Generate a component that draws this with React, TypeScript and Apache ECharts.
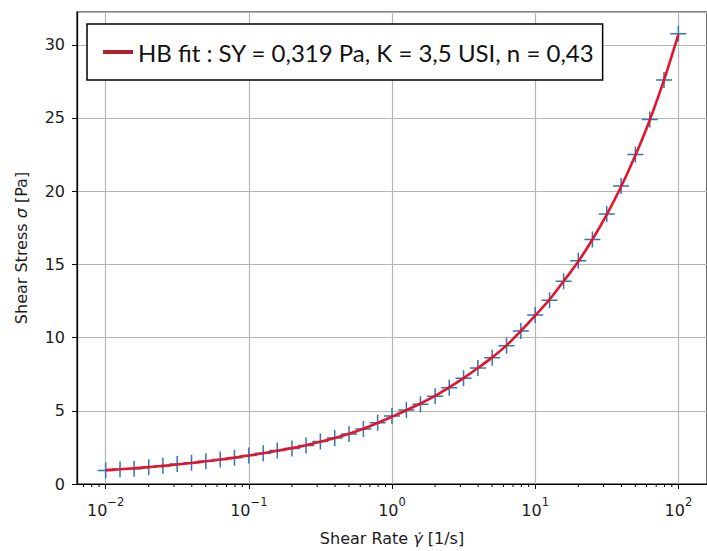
import React, { useEffect, useRef } from 'react';
import * as echarts from 'echarts';

// Shear rate of each measured point [1/s] (10 points per decade)
const shearRate = [
  0.01, 0.0126, 0.0158, 0.02, 0.0251, 0.0316, 0.0398, 0.0501, 0.0631, 0.0794,
  0.1, 0.126, 0.158, 0.2, 0.251, 0.316, 0.398, 0.501, 0.631, 0.794,
  1, 1.26, 1.58, 2, 2.51, 3.16, 3.98, 5.01, 6.31, 7.94,
  10, 12.6, 15.8, 20, 25.1, 31.6, 39.8, 50.1, 63.1, 79.4,
  100,
];

// Measured shear stress [Pa]
const measuredStress = [
  0.93, 1.0, 1.05, 1.15, 1.25, 1.36, 1.45, 1.56, 1.68, 1.8,
  1.95, 2.1, 2.28, 2.42, 2.63, 2.9, 3.15, 3.42, 3.75, 4.18,
  4.65, 5.05, 5.45, 6.0, 6.58, 7.22, 7.92, 8.62, 9.45, 10.45,
  11.55, 12.55, 13.85, 15.25, 16.7, 18.45, 20.35, 22.5, 24.9, 27.6,
  30.75,
];

// Herschel-Bulkley fit evaluated at the same shear rates [Pa]
const fitStress = [
  0.95, 1.01, 1.08, 1.15, 1.24, 1.33, 1.44, 1.55, 1.67, 1.8,
  1.95, 2.1, 2.27, 2.45, 2.65, 2.89, 3.15, 3.44, 3.77, 4.17,
  4.6, 5.04, 5.5, 6.02, 6.6, 7.23, 7.92, 8.65, 9.47, 10.45,
  11.5, 12.6, 13.85, 15.2, 16.7, 18.4, 20.3, 22.45, 24.85, 27.6,
  30.7,
];

const fitLabel = 'HB fit : SY = 0,319 Pa, K = 3,5 USI, n = 0,43';

const X_MIN = Math.pow(10, -2.2);
const X_MAX = Math.pow(10, 2.2);
const Y_MAX = 32.24;

// minor ticks of the log axis: 2..9 x 10^k inside the visible range
const minorTickValues: number[] = [];
for (let e = -3; e <= 2; e++) {
  for (let m = 2; m <= 9; m++) {
    const v = m * Math.pow(10, e);
    if (v > X_MIN && v < X_MAX) minorTickValues.push(v);
  }
}

const TEXT = '#1c1c1c';
const GRID = '#b4b4b4';

export default function App() {
  const ref = useRef<HTMLDivElement>(null);

  useEffect(() => {
    if (!ref.current) return;
    const chart = echarts.init(ref.current, null, { renderer: 'svg' });

    const option: any = {
      animation: false,
      backgroundColor: '#fff',
      textStyle: { fontFamily: 'DejaVu Sans' },
      grid: {
        left: 77,
        top: 12,
        width: 639,
        height: 475,
        show: true,
        borderColor: '#000',
        borderWidth: 1.2,
        backgroundColor: 'transparent',
        containLabel: false,
      },
      legend: {
        left: 87,
        top: 24,
        data: [{ name: fitLabel, icon: 'rect', itemStyle: { color: '#b3202d' } }],
        itemWidth: 30,
        itemHeight: 4,
        padding: [16, 8, 16, 16],
        borderColor: '#000',
        borderWidth: 1.5,
        borderRadius: 0,
        backgroundColor: '#fff',
        selectedMode: false,
        textStyle: { fontFamily: 'Lato', fontSize: 24, color: '#111', lineHeight: 24 },
      },
      xAxis: {
        type: 'log',
        logBase: 10,
        min: X_MIN,
        max: X_MAX,
        axisLine: { show: true, lineStyle: { color: '#000', width: 1.2 } },
        axisTick: { show: true, inside: false, length: 5, lineStyle: { color: '#000', width: 1 } },
        splitLine: { show: true, lineStyle: { color: GRID, width: 1.2 } },
        axisLabel: {
          showMinLabel: false,
          showMaxLabel: false,
          margin: 12,
          color: TEXT,
          formatter: (v: number) => {
            const e = Math.round(Math.log10(v));
            const exp = e < 0 ? '\u2212' + Math.abs(e) : String(e);
            return '{b|10}{s|' + exp + '}';
          },
          rich: {
            b: { fontSize: 16, fontFamily: 'DejaVu Sans', color: TEXT, lineHeight: 22, verticalAlign: 'bottom' },
            s: { fontSize: 11.5, fontFamily: 'DejaVu Sans', color: TEXT, lineHeight: 22, verticalAlign: 'top' },
          },
        },
        name: '{n|Shear Rate }{i|\u03b3\u0307}{n| [1/s]}',
        nameLocation: 'middle',
        nameGap: 46,
        nameTextStyle: {
          rich: {
            n: { fontSize: 16, fontFamily: 'DejaVu Sans', color: TEXT },
            i: { fontSize: 16, fontFamily: 'DejaVu Sans', fontStyle: 'italic', color: TEXT },
          },
        },
      },
      yAxis: {
        type: 'value',
        min: 0,
        max: Y_MAX,
        interval: 5,
        axisLine: { show: true, lineStyle: { color: '#000', width: 1.2 } },
        axisTick: { show: true, inside: false, length: 5, lineStyle: { color: '#000', width: 1 } },
        splitLine: { show: true, lineStyle: { color: GRID, width: 1.2 } },
        axisLabel: { showMaxLabel: false, margin: 12, fontSize: 16, color: TEXT, fontFamily: 'DejaVu Sans' },
        name: '{n|Shear Stress }{i|\u03c3}{n| [Pa]}',
        nameLocation: 'middle',
        nameGap: 48,
        nameRotate: 90,
        nameTextStyle: {
          rich: {
            n: { fontSize: 16, fontFamily: 'DejaVu Sans', color: TEXT },
            i: { fontSize: 16, fontFamily: 'DejaVu Sans', fontStyle: 'italic', color: TEXT },
          },
        },
      },
      series: [
        {
          name: 'measured',
          type: 'scatter',
          data: shearRate.map((r, i) => [r, measuredStress[i]]),
          symbol: 'path://M8,0L8,16M0,8L16,8',
          symbolSize: 16,
          itemStyle: { color: 'rgba(0,0,0,0)', borderColor: '#2b78b5', borderWidth: 1.5, opacity: 1 },
          z: 2,
          silent: true,
        },
        {
          name: fitLabel,
          type: 'line',
          data: shearRate.map((r, i) => [r, fitStress[i]]),
          showSymbol: false,
          smooth: 0.3,
          lineStyle: { color: '#e5142c', width: 2.6 },
          itemStyle: { color: '#e5142c' },
          z: 3,
          silent: true,
        },
        {
          name: 'minorTicks',
          type: 'custom',
          data: minorTickValues.map((v) => [v, 0]),
          encode: { x: 0, y: 1 },
          clip: false,
          silent: true,
          z: 5,
          renderItem: (_params: any, api: any) => {
            const p = api.coord([api.value(0), 0]);
            return {
              type: 'line',
              shape: { x1: p[0], y1: p[1], x2: p[0], y2: p[1] + 3 },
              style: { stroke: '#000', lineWidth: 1 },
            };
          },
        },
      ],
    };

    chart.setOption(option);
    return () => chart.dispose();
  }, []);

  return (
    <div
      ref={ref}
      style={{ position: 'fixed', left: 0, top: 0, width: 707, height: 551 }}
    />
  );
}
